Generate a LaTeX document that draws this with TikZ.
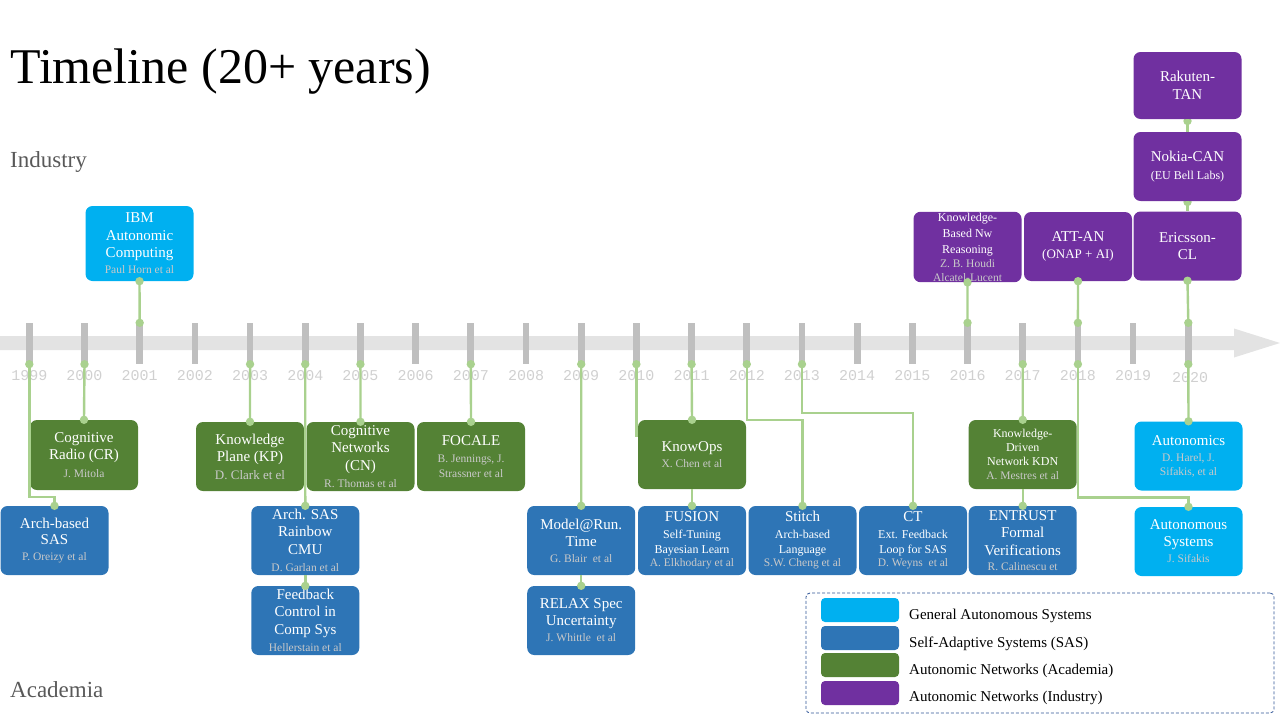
\documentclass[tikz,border=0pt]{standalone}
\usepackage{fontspec}
\setmainfont{Liberation Serif}
\newfontfamily\yrfont{Liberation Mono}
\usetikzlibrary{calc}
\definecolor{gas}{HTML}{00B0F0}
\definecolor{sas}{HTML}{2E75B6}
\definecolor{ana}{HTML}{548235}
\definecolor{ani}{HTML}{7030A0}
\definecolor{connc}{HTML}{A9D18E}
\definecolor{tickc}{HTML}{BFBFBF}
\definecolor{barc}{HTML}{E3E3E3}
\definecolor{yrc}{HTML}{D0D0D0}
\definecolor{authc}{HTML}{C9C9C9}
\definecolor{sidec}{HTML}{595959}
\definecolor{legc}{HTML}{2F5597}
\newcommand\bxf{\fontsize{15}{17.5}\selectfont}
\newcommand\auf{\fontsize{11.5}{13}\selectfont\color{authc}}
\newcommand\smf{\fontsize{12}{14}\selectfont}
\newcommand\dotat[1]{\fill[connc] (#1) circle (4.2);}
\begin{document}
\begin{tikzpicture}[x=1pt,y=-1pt,
  box/.style={rounded corners=7pt, minimum width=108pt, minimum height=69pt, inner sep=1pt, align=center, text=white, font=\bxf},
  tickbar/.style={fill=tickc, minimum width=6.7pt, minimum height=41pt, inner sep=0pt},
  yrlab/.style={font=\yrfont\fontsize{15}{17}\selectfont, text=yrc, inner sep=0pt},
  conn/.style={draw=connc, line width=2.4pt},
  swatch/.style={rounded corners=4pt, minimum width=78pt, minimum height=24pt, inner sep=0pt},
  legtext/.style={anchor=base west, inner sep=0pt, font=\fontsize{15}{17}\selectfont}]
\useasboundingbox (0,0) rectangle (1280,720);
% title and side labels
\node[anchor=base west, inner sep=0pt, font=\fontsize{50}{56}\selectfont] (title) at (10,83) {Timeline (20+ years)};
\node[anchor=base west, inner sep=0pt, font=\fontsize{23}{26}\selectfont, text=sidec] (industry) at (10,167) {Industry};
\node[anchor=base west, inner sep=0pt, font=\fontsize{23}{26}\selectfont, text=sidec] (academia) at (10,697) {Academia};
% timeline bar
\fill[barc] (0,336) -- (1234,336) -- (1234,328.5) -- (1280,343) -- (1234,357.5) -- (1234,350) -- (0,350) -- cycle;
\foreach \yr [count=\i from 0] in {1999,...,2019} {
  \node[tickbar] (y\yr) at ({29.3+55.19*\i},343.5) {};
  \node[yrlab] (l\yr) at ({29.3+55.19*\i},376) {\yr};
}
\node[tickbar] (y2020) at (1188.3,343.5) {};
\node[yrlab] (l2020) at (1190,378) {2020};
% dots hidden under upper stacked boxes
\dotat{1187.5,121}
\dotat{1187.5,202}
% boxes
\node[box,fill=gas,minimum height=75pt] (ibm) at (139.5,243.5) {IBM\\Autonomic\\Computing\\[-1.5pt]{\auf Paul Horn et al}};
\node[box,fill=ana,minimum height=70pt] (cr) at (84,455) {Cognitive\\Radio (CR)\\{\auf J. Mitola}};
\node[box,fill=sas] (archsas) at (54.5,540.5) {Arch-based\\[-1.5pt]SAS\\[-1.5pt]{\auf P. Oreizy et al}};
\node[box,fill=ana] (kp) at (250,456.5) {Knowledge\\Plane (KP)\\{\auf\fontsize{13}{15}\selectfont D. Clark et el}};
\node[box,fill=ana] (cn) at (360.5,456.5) {Cognitive\\Networks\\(CN)\\{\auf R. Thomas et al}};
\node[box,fill=sas] (rainbow) at (305.3,540.5) {Arch. SAS\\Rainbow\\CMU\\{\auf D. Garlan et al}};
\node[box,fill=sas] (fb) at (305.3,620.5) {Feedback\\Control in\\Comp Sys\\{\auf Hellerstain et al}};
\node[box,fill=ana] (focale) at (471,456.5) {FOCALE\\[-0.5pt]{\auf B. Jennings, J.}\\[-2.5pt]{\auf Strassner et al}};
\node[box,fill=sas] (mrt) at (581.2,540.5) {Model@Run.\\[-0.5pt]Time\\[-1.5pt]{\auf G. Blair\ \ et al}};
\node[box,fill=sas] (relax) at (581.2,620.5) {RELAX Spec\\[-0.5pt]Uncertainty\\[-1.5pt]{\auf J. Whittle\ \ et al}};
\node[box,fill=ana] (knowops) at (692,454.5) {KnowOps\\[-1.5pt]{\auf X. Chen et al}};
\node[box,fill=sas] (fusion) at (692,540.5) {FUSION\\[-0.5pt]{\smf Self-Tuning}\\[-2.5pt]{\smf Bayesian Learn}\\[-4.5pt]{\auf A. Elkhodary et al}};
\node[box,fill=sas] (stitch) at (802.5,540.5) {Stitch\\[-0.5pt]{\smf Arch-based}\\[-2.5pt]{\smf Language}\\[-4.5pt]{\auf S.W. Cheng et al}};
\node[box,fill=sas] (ct) at (913,540.5) {CT\\[-0.5pt]{\smf Ext. Feedback}\\[-2.5pt]{\smf Loop for SAS}\\[-4.5pt]{\auf D. Weyns\ \ et al}};
\node[box,fill=ana] (kdn) at (1022.7,454.5) {{\smf Knowledge-}\\[-3pt]{\smf Driven}\\[-3.5pt]{\smf Network KDN}\\[-3.5pt]{\auf A. Mestres et al}};
\node[box,fill=sas] (entrust) at (1022.7,540.5) {ENTRUST\\[-0.5pt]Formal\\Verifications\\[-2.5pt]{\auf R. Calinescu et}};
\node[box,fill=gas] (autonomics) at (1188.5,456) {Autonomics\\[-1.5pt]{\auf D. Harel, J.}\\[-3.5pt]{\auf Sifakis, et al}};
\node[box,fill=gas] (autsys) at (1188.5,541.5) {Autonomous\\[-0.5pt]Systems\\[-1.5pt]{\auf J. Sifakis}};
\node[box,fill=ani,minimum height=68pt] (kbnr) at (967.5,247) {{\smf Knowledge-}\\[-1.5pt]{\smf Based Nw}\\[-1.5pt]{\smf Reasoning}\\[-3.5pt]{\auf Z. B. Houdi}\\[-3.5pt]{\auf Alcatel-Lucent}};
\node[box,fill=ani] (att) at (1078,246.5) {ATT-AN\\[-0.5pt]{\fontsize{13}{15}\selectfont (ONAP + AI)}};
\node[box,fill=ani] (eric) at (1187.5,246) {Ericsson-\\CL};
\node[box,fill=ani] (nokia) at (1187.5,166.5) {Nokia-CAN\\{\smf (EU Bell Labs)}};
\node[box,fill=ani,minimum height=67pt] (rakuten) at (1187.5,85.5) {Rakuten-\\TAN};
% connectors
\draw[conn] (ibm.south) -- (y2001.north);
\draw[conn] (y2000.south) -- (cr.north);
\draw[conn] (y1999.south) |- ($(archsas.north)+(0,-9)$) -- (archsas.north);
\draw[conn] (y2003.south) -- (kp.north);
\draw[conn] (y2004.south) -- (rainbow.north);
\draw[conn] (rainbow.south) -- (fb.north);
\draw[conn] (y2005.south) -- (cn.north);
\draw[conn] (y2007.south) -- (focale.north);
\draw[conn] (y2009.south) -- (mrt.north);
\draw[conn] (mrt.south) -- (relax.north);
\draw[conn] (y2010.south) |- ($(knowops.west)+(0,-19)$);
\draw[conn] (y2011.south) -- (knowops.north);
\draw[conn] (knowops.south) -- (fusion.north);
\draw[conn] (y2012.south) |- ($(stitch.north)+(0,-86)$) -- (stitch.north);
\draw[conn] (y2013.south) |- ($(ct.north)+(0,-93)$) -- (ct.north);
\draw[conn] (y2017.south) -- (kdn.north);
\draw[conn] (kdn.south) -- (entrust.north);
\draw[conn] (y2018.south) |- ($(autsys.north)+(0,-9.5)$) -- (autsys.north);
\draw[conn] (y2020.south) -- (autonomics.north);
\draw[conn] (kbnr.south) -- (y2016.north);
\draw[conn] (att.south) -- (y2018.north);
\draw[conn] (eric.south) -- (y2020.north);
\draw[conn] (nokia.south) -- (eric.north);
\draw[conn] (rakuten.south) -- (nokia.north);
% dots
\foreach \p in {ibm.south, y2001.north, y2000.south, cr.north, y1999.south, archsas.north,
  y2003.south, kp.north, y2004.south, rainbow.north, fb.north, y2005.south, cn.north,
  y2007.south, focale.north, y2009.south, mrt.north, relax.north, y2010.south,
  y2011.south, knowops.north, fusion.north, y2012.south, stitch.north, y2013.south, ct.north,
  y2017.south, kdn.north, entrust.north, y2018.south, autsys.north, y2020.south, autonomics.north,
  kbnr.south, y2016.north, att.south, y2018.north, eric.south, y2020.north}
  {\dotat{\p}}
% legend
\node[draw=legc, dash pattern=on 3pt off 2pt, line width=0.8pt, rounded corners=4pt, minimum width=468pt, minimum height=120pt, inner sep=0pt] (legend) at (1040,653) {};
\node[swatch, fill=gas] (sw1) at (860,610) {};
\node[swatch, fill=sas] (sw2) at (860,638) {};
\node[swatch, fill=ana] (sw3) at (860,665) {};
\node[swatch, fill=ani] (sw4) at (860,693) {};
\node[legtext] (lt1) at (909,619) {General Autonomous Systems};
\node[legtext] (lt2) at (909,647) {Self-Adaptive Systems (SAS)};
\node[legtext] (lt3) at (909,674) {Autonomic Networks (Academia)};
\node[legtext] (lt4) at (909,701) {Autonomic Networks (Industry)};
\end{tikzpicture}
\end{document}
